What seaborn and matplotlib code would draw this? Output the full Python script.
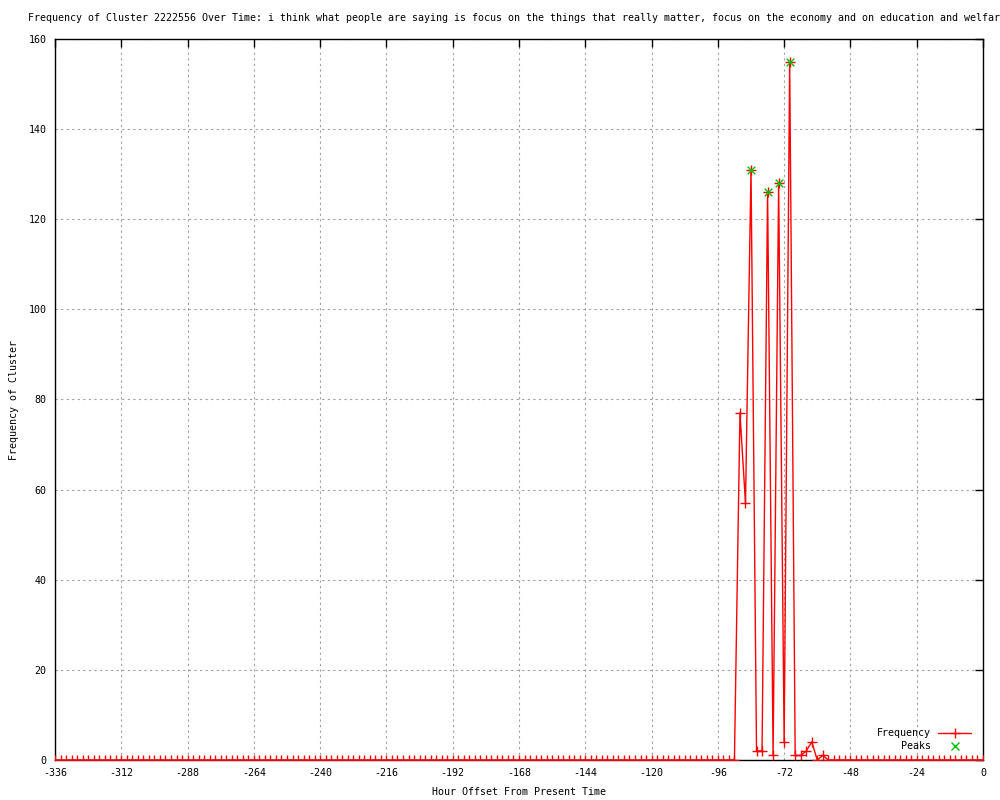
import numpy as np
import pandas as pd
import matplotlib
matplotlib.use("Agg")
import matplotlib.pyplot as plt
from matplotlib.lines import Line2D
import seaborn as sns

# ---- data ----
hours = list(range(-336, 1, 2))
active_hours = [-88, -86, -84, -82, -80, -78, -76, -74, -72, -70, -68, -66, -64, -62, -60, -58]
active_values = [77, 57, 131, 2, 2, 126, 1, 128, 4, 155, 1, 1, 2, 4, 0, 1]
peak_hours = [-84, -78, -74, -70]
peak_values = [131, 126, 128, 155]
x_ticks = list(range(-336, 1, 24))
y_ticks = list(range(0, 161, 20))
title = ("Frequency of Cluster 2222556 Over Time: i think what people are saying is focus on "
         "the things that really matter, focus on the economy and on education and welfar")

freq_map = dict(zip(active_hours, active_values))
freq_df = pd.DataFrame({"hour": hours, "freq": [freq_map.get(h, 0) for h in hours]})
peak_df = pd.DataFrame({"hour": peak_hours, "freq": peak_values})

sns.set_style("white")
plt.rcParams["font.family"] = ["DejaVu Sans Mono"]
plt.rcParams["text.color"] = "black"
plt.rcParams["axes.labelcolor"] = "black"
plt.rcParams["xtick.color"] = "black"
plt.rcParams["ytick.color"] = "black"
FS = 7.2

fig = plt.figure(figsize=(10, 8), dpi=100)
ax = fig.add_axes([0.055, 0.05, 0.928, 0.90125])

sns.lineplot(data=freq_df, x="hour", y="freq", ax=ax, color="#ff0000", linewidth=1.0,
             marker="+", markersize=6.5, markeredgewidth=1.0, markeredgecolor="#ff0000",
             zorder=3, legend=False)
sns.scatterplot(data=peak_df, x="hour", y="freq", ax=ax, color="#00c000", marker="x",
                s=30, linewidth=1.0, zorder=4, legend=False)

ax.set_xlim(-336, 0)
ax.set_ylim(0, 160)
ax.set_xticks(x_ticks)
ax.set_yticks(y_ticks)
ax.set_xticklabels([str(t) for t in x_ticks], fontsize=FS)
ax.set_yticklabels([str(t) for t in y_ticks], fontsize=FS)
ax.tick_params(axis="both", which="major", direction="in", length=6, width=1, color="black",
               labelcolor="black", top=True, right=True, labelsize=FS, pad=6)
ax.grid(True, color="#a0a0a0", linestyle=(0, (2, 3)), linewidth=0.8)
for s in ax.spines.values():
    s.set_color("black")
    s.set_linewidth(1.0)
    s.set_visible(True)

ax.set_xlabel("Hour Offset From Present Time", fontsize=FS, labelpad=6)
ax.set_ylabel("Frequency of Cluster", fontsize=FS)
ax.yaxis.set_label_coords(-0.039, 0.5)
fig.text(0.028, 0.978, title, fontsize=FS, ha="left", va="center")

handles = [
    Line2D([0], [0], color="#ff0000", linewidth=1.0, marker="+", markersize=6.5),
    Line2D([0], [0], color="#00c000", linestyle="none", marker="x", markersize=6),
]
ax.legend(handles, ["Frequency", "Peaks"], loc="lower right", bbox_to_anchor=(0.997, 0.0),
          frameon=False, markerfirst=False, fontsize=FS, handlelength=3.3,
          labelspacing=0.25, handletextpad=0.7)

fig.savefig("out.png", dpi=100, facecolor="white")
